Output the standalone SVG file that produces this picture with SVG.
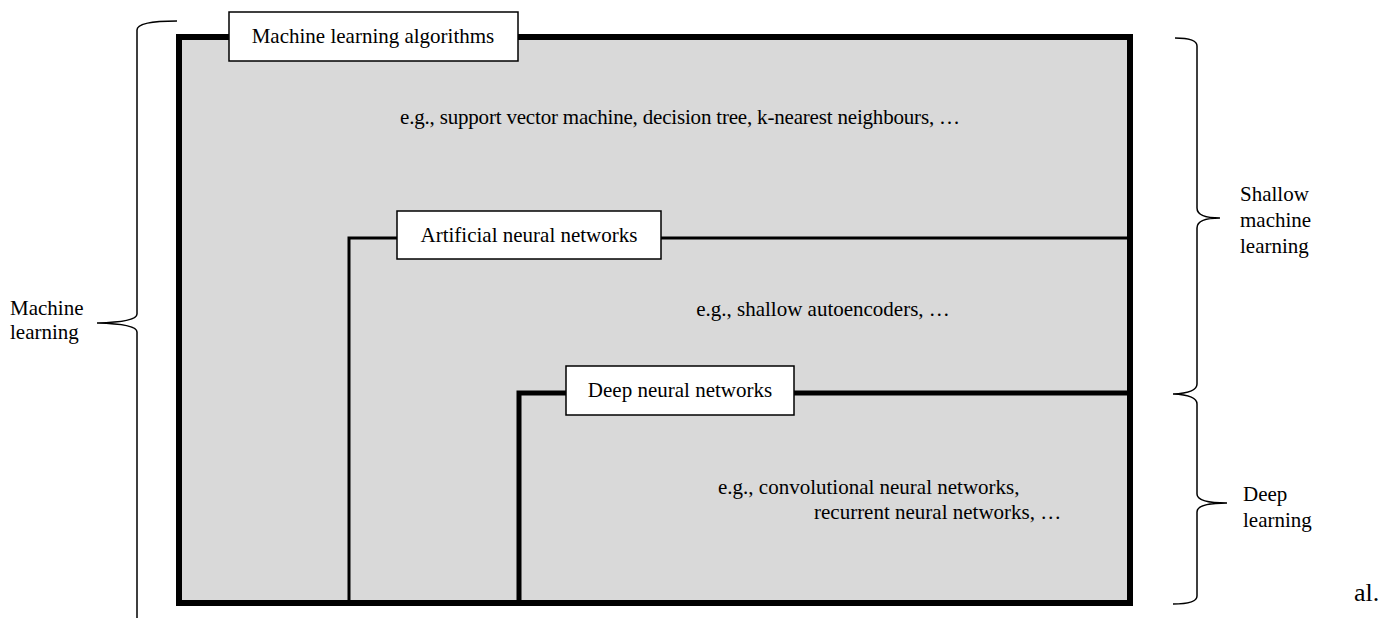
<svg xmlns="http://www.w3.org/2000/svg" width="1396" height="618" viewBox="0 0 1396 618">
<style>
text{font-family:"Liberation Serif","Times New Roman",serif;font-size:21px;fill:#000}
.lbl{fill:#fff;stroke:#000;stroke-width:1.5}
.brace{fill:none;stroke:#000;stroke-width:1.5}
</style>
<rect width="1396" height="618" fill="#fff"/>
<g id="connectors">
<path class="brace" d="M177,21 Q137,21 137,30 L137,314 Q137,322 97,323 Q137,324 137,332 L137,618"/>
<path class="brace" d="M1175,38 Q1197,38 1197,46 L1197,208 Q1197,218 1220,218 Q1197,218 1197,228 L1197,384 Q1197,393 1173,394 Q1197,395 1197,404 L1197,494 Q1197,503 1227,503 Q1197,503 1197,512 L1197,596 Q1197,604 1173,604"/>
</g>
<g id="ml">
<rect x="179" y="37" width="951" height="566" fill="#d9d9d9" stroke="#000" stroke-width="6"/>
<text x="680" y="124" text-anchor="middle" textLength="560">e.g., support vector machine, decision tree, k-nearest neighbours, …</text>
</g>
<g id="ann">
<path d="M349,603 L349,238 L1130,238" fill="none" stroke="#000" stroke-width="3"/>
<text x="823" y="316" text-anchor="middle">e.g., shallow autoencoders, …</text>
</g>
<g id="dnn">
<path d="M519,603 L519,393 L1130,393" fill="none" stroke="#000" stroke-width="5"/>
<text x="718" y="494">e.g., convolutional neural networks,</text>
<text x="814" y="519">recurrent neural networks, …</text>
</g>
<g id="ml-label">
<rect class="lbl" x="229" y="12" width="289" height="49"/>
<text x="373" y="43" text-anchor="middle">Machine learning algorithms</text>
</g>
<g id="ann-label">
<rect class="lbl" x="397" y="211" width="264" height="48"/>
<text x="529" y="242" text-anchor="middle">Artificial neural networks</text>
</g>
<g id="dnn-label">
<rect class="lbl" x="566" y="366" width="228" height="49"/>
<text x="680" y="397" text-anchor="middle">Deep neural networks</text>
</g>
<g id="side-labels">
<text x="10" y="315">Machine</text>
<text x="10" y="339">learning</text>
<text x="1240" y="201">Shallow</text>
<text x="1240" y="227">machine</text>
<text x="1240" y="253">learning</text>
<text x="1243" y="501">Deep</text>
<text x="1243" y="527">learning</text>
<text x="1354" y="601" style="font-size:26px">al.</text>
</g>
</svg>
